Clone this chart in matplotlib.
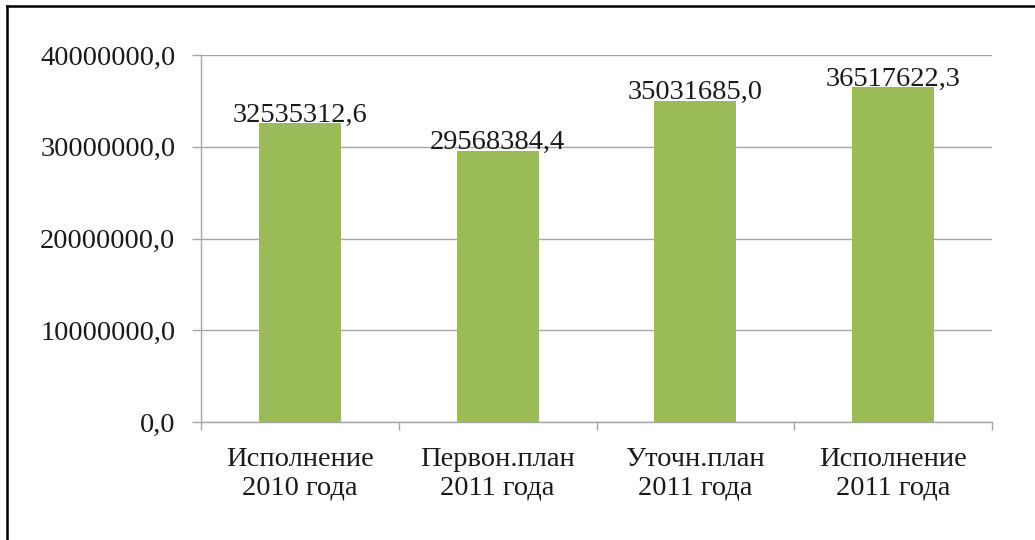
import matplotlib
matplotlib.use("Agg")
import matplotlib.pyplot as plt
from matplotlib.lines import Line2D
from matplotlib.transforms import offset_copy
import numpy as np

categories = ["Исполнение\n2010 года", "Первон.план\n2011 года", "Уточн.план\n2011 года", "Исполнение\n2011 года"]
values = [32535312.6, 29568384.4, 35031685.0, 36517622.3]
yticks = [0, 10000000, 20000000, 30000000, 40000000]

plt.rcParams['font.family'] = ['Liberation Serif', 'DejaVu Serif']

W, H = 1035, 540
fig = plt.figure(figsize=(W / 100, H / 100), dpi=100)
fig.patch.set_facecolor('white')

# border (left and top)
fig.add_artist(Line2D([6.5 / W, 6.5 / W], [0, 1 - 5.5 / H], transform=fig.transFigure, color='black', lw=1.8))
fig.add_artist(Line2D([6.5 / W, 1], [1 - 5.5 / H, 1 - 5.5 / H], transform=fig.transFigure, color='black', lw=1.8))

left, right, top, bottom = 201, 992, 55, 422
ax = fig.add_axes([left / W, (H - bottom) / H, (right - left) / W, (bottom - top) / H])

FS = 20.5
x = np.arange(len(categories))
bars = ax.bar(x, values, width=0.415, color='#9BBB59', zorder=3)

ax.set_xlim(-0.5, len(categories) - 0.5)
ax.set_ylim(0, 40000000)
ax.set_yticks(yticks)
ax.set_yticklabels([f"{v:.1f}".replace('.', ',') for v in yticks], fontsize=FS, color='#1a1a1a')
ax.yaxis.grid(True, color='#A6A6A6', lw=1.0, zorder=0)

ax.set_xticks(x)
ax.set_xticklabels(categories, fontsize=FS, linespacing=1.2, color='#1a1a1a')
ax.tick_params(axis='x', length=0, pad=18)
ax.set_xticks(np.arange(-0.5, len(categories) + 0.5, 1), minor=True)
ax.tick_params(axis='x', which='minor', length=6, color='#A6A6A6', width=1)
ax.tick_params(axis='y', length=6.5, color='#A6A6A6', width=1, pad=12)

for s in ['top', 'right']:
    ax.spines[s].set_visible(False)
for s in ['left', 'bottom']:
    ax.spines[s].set_color('#A6A6A6')
    ax.spines[s].set_linewidth(1.0)

lbl_tr = offset_copy(ax.transData, fig=fig, x=0, y=1.0, units='points')
for xi, v in zip(x, values):
    ax.text(xi, v, f"{v:.1f}".replace('.', ','), ha='center', va='baseline', fontsize=FS,
            color='#1a1a1a', transform=lbl_tr, zorder=4)

fig.savefig("out.png", dpi=100)
